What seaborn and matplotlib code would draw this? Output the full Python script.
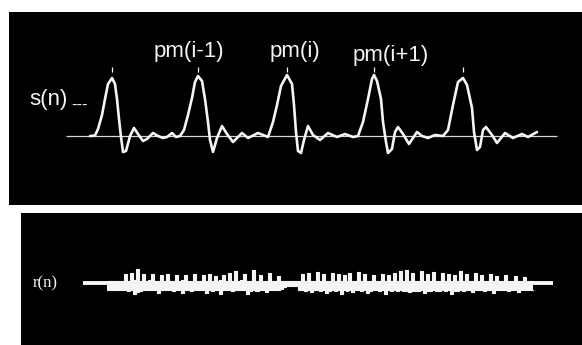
import numpy as np
import pandas as pd
import seaborn as sns
import matplotlib
matplotlib.use('Agg')
import matplotlib.pyplot as plt

sns.set_style('white')
plt.rcParams['font.family'] = ['Liberation Sans', 'DejaVu Sans']

# s(n): speech-like frame, sample index vs amplitude
s_n = [0, 5, 8, 12, 15, 18, 22, 25, 27, 29, 31, 33, 36, 40, 44, 48, 53, 57, 63, 68,
       73, 77, 82, 86, 90, 94, 98, 102, 105, 108, 112, 115, 118, 120, 123,
       127, 132, 137, 143, 152, 158, 168, 178, 183, 187,
       191, 197, 202, 204, 206, 208, 211, 214, 218, 223,
       230, 238, 247, 255, 263, 268, 273, 278, 282, 284,
       287, 291, 293, 296, 298, 302, 305, 308, 313, 319,
       327, 332, 338, 345, 353, 358, 363, 368, 373, 377,
       382, 384, 387, 390, 393, 396, 402, 407, 415, 423,
       432, 438, 447]
s_val = [0, 0.5, 7, 21, 37, 52, 58, 52, 37, 17, -1, -16, -15, 0, 8, 2, -5, -3, 3, 0,
         -2, -1, 3, -1, 0, 6, 21, 38, 54, 60, 55, 37, 14, -4, -16,
         -2, 10, 2, -6, 3, -2, 3, -1, 14, 31,
         50, 61, 52, 31, 4, -15, -17, -4, 10, 1,
         -4, 3, -1, 2, -1, 0, 14, 37, 57, 61,
         55, 37, 14, -6, -17, -13, 4, 9, 2, -8,
         4, 0, -2, 1, 0, 6, 31, 54, 58, 51,
         28, 4, -14, -11, 6, 9, 1, -7, 3, -2,
         2, -1, 4]

# r(n): residual, max / min in every 3-sample column, starting at n = 17
r_start, r_step = 17, 3
r_hi = [2, 2, 2, 2, 2, 2, 9, 2, 10, 3, 14, 2, 9, 2, 3, 9, 2, 2, 8, 2,
        9, 2, 2, 8, 2, 3, 8, 2, 2, 9, 2, 2, 8, 2, 9, 2, 7, 2, 3, 8,
        2, 10, 2, 12, 2, 3, 9, 2, 2, 13, 2, 8, 2, 2, 10, 2, 2, 7, 2, 2,
        2, 2, 2, 2, 2, 9, 2, 10, 2, 2, 11, 2, 9, 2, 2, 10, 2, 9, 2, 8,
        2, 10, 2, 2, 11, 2, 9, 2, 2, 8, 2, 2, 9, 2, 8, 2, 10, 2, 12, 2,
        13, 2, 10, 2, 2, 12, 2, 9, 2, 11, 2, 2, 10, 2, 9, 2, 8, 2, 12, 2,
        9, 2, 2, 10, 2, 8, 2, 2, 9, 2, 7, 2, 2, 8, 2, 2, 7, 2, 2, 6,
        2, 2, 2]
r_lo = [-7, -7, -7, -7, -7, -7, -7, -8, -7, -11, -9, -8, -7, -7, -7, -7, -7, -10, -7, -7,
        -7, -7, -8, -7, -7, -10, -7, -7, -8, -7, -7, -7, -7, -10, -7, -8, -7, -7, -11, -7,
        -7, -7, -8, -7, -7, -7, -7, -11, -8, -7, -8, -7, -7, -9, -7, -7, -7, -7, -6, -4,
        -3, -3, -3, -3, -7, -7, -8, -7, -9, -7, -7, -8, -7, -10, -8, -7, -8, -7, -11, -7,
        -8, -7, -9, -7, -7, -8, -7, -10, -8, -7, -7, -8, -7, -11, -7, -8, -7, -8, -7, -8,
        -8, -9, -8, -8, -8, -7, -10, -8, -8, -7, -8, -8, -7, -8, -7, -11, -8, -8, -7, -8,
        -7, -7, -9, -7, -7, -7, -8, -7, -7, -10, -7, -7, -7, -7, -8, -7, -7, -9, -7, -7,
        -7, -7, -7]

pm_labels = ['pm(i-1)', 'pm(i)', 'pm(i+1)']

sig = pd.DataFrame({'n': s_n, 's': s_val})
res = pd.DataFrame({'n': r_start + r_step * np.arange(len(r_hi)), 'hi': r_hi, 'lo': r_lo})

W, H = 582, 345
fig = plt.figure(figsize=(W / 100, H / 100), dpi=100)
fig.patch.set_facecolor('white')

fg = '#f4f4f4'

# top panel: s(n)
ax1 = fig.add_axes([9 / W, 140 / H, 573 / W, 193 / H])
ax1.set_facecolor('black')
ax1.hlines(0, -24, 467, color='#d8d8d8', lw=0.9)
sns.lineplot(data=sig, x='n', y='s', ax=ax1, color=fg, lw=1.9)

# pitch marks above each local maximum
s_arr = np.array(s_val)
peaks = [i for i in range(1, len(s_arr) - 1)
         if s_arr[i] > 50 and s_arr[i] >= s_arr[i - 1] and s_arr[i] >= s_arr[i + 1]]
ax1.vlines(np.array(s_n)[peaks], 64, 69, color=fg, lw=0.9)

for lab, x, y in zip(pm_labels, [99, 205, 301], [84, 85, 80]):
    ax1.text(x, y, lab, color=fg, fontsize=16, ha='center', va='center')
ax1.text(-41, 36, 's(n)', color=fg, fontsize=16, ha='center', va='center')
ax1.text(-10, 31, '---', color=fg, fontsize=12, ha='center', va='center')

ax1.set_xlim(-81, 492)
ax1.set_ylim(-69, 124)

# bottom panel: r(n)
ax2 = fig.add_axes([21 / W, 0, 561 / W, 132 / H])
ax2.set_facecolor('black')
ax2.hlines(0, -7, 463, color=fg, lw=2.8)
ax2.fill_between(res['n'], res['lo'], res['hi'], step='mid', color=fg, lw=0)
sns.lineplot(data=res, x='n', y='hi', ax=ax2, color=fg, lw=0.8, drawstyle='steps-mid')
sns.lineplot(data=res, x='n', y='lo', ax=ax2, color=fg, lw=0.8, drawstyle='steps-mid')
ax2.text(-45, 0, 'r(n)', color=fg, fontsize=12, ha='center', va='center',
         family=['Liberation Serif', 'DejaVu Serif'])
ax2.set_xlim(-69, 492)
ax2.set_ylim(-62, 70)

for ax in (ax1, ax2):
    ax.set_xticks([])
    ax.set_yticks([])
    ax.set_xlabel('')
    ax.set_ylabel('')
    for sp in ax.spines.values():
        sp.set_visible(False)

fig.savefig('out.png', dpi=100, facecolor='white')
